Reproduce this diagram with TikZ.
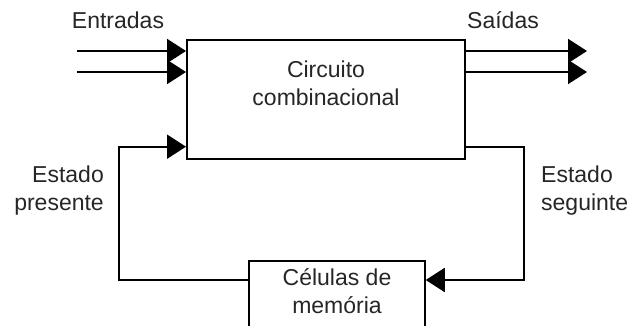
\documentclass[tikz,border=0pt]{standalone}
\usepackage{fontspec}
\setmainfont{Liberation Sans}
\usetikzlibrary{arrows.meta}
\begin{document}
\begin{tikzpicture}[x=1pt,y=1pt,
  every node/.style={font=\fontsize{23}{28}\selectfont, inner sep=0pt, text=black!85},
  boxa/.style={draw, line width=2pt, rectangle},
  wire/.style={line width=2pt},
  arr/.style={wire, -{Triangle[length=19pt,width=24pt]}}]
\useasboundingbox (0,0) rectangle (631,326);
\clip (0,0) rectangle (631,326);
% main box
\node[boxa, minimum width=278pt, minimum height=119pt] (cc) at (326,226.5) {};
\node[align=center] (cctext) at (326,243) {Circuito\\combinacional};
% memory box
\node[draw, line width=1.5pt, minimum width=176pt, minimum height=85pt] (mem) at (337,22.5) {};
\node[align=center] (memtext) at (337,34.5) {Células de\\memória};
% labels
\node (ent) at (118,306) {Entradas};
\node (sai) at (503,306) {Saídas};
\node[anchor=east, align=right] (ep) at (104,135) {Estado\\presente};
\node[anchor=west, align=left] (es) at (541,135) {Estado\\seguinte};
% inputs
\coordinate (in1) at (77,275);
\coordinate (in2) at (77,254);
\draw[arr] (in1) -- (cc.west |- in1);
\draw[arr] (in2) -- (cc.west |- in2);
% outputs
\coordinate (out1) at (587,275);
\coordinate (out2) at (587,254);
\draw[arr] (cc.east |- out1) -- (out1);
\draw[arr] (cc.east |- out2) -- (out2);
% feedback right
\coordinate (fbR) at (524,179.3);
\coordinate (fbRb) at (524,46);
\draw[arr] (cc.east |- fbR) -- (fbR) -- (fbRb) -- (mem.east |- fbRb);
% feedback left
\coordinate (fbL) at (119,46);
\coordinate (fbLt) at (119,179.3);
\draw[arr] (mem.west |- fbL) -- (fbL) -- (fbLt) -- (cc.west |- fbLt);
\end{tikzpicture}
\end{document}
